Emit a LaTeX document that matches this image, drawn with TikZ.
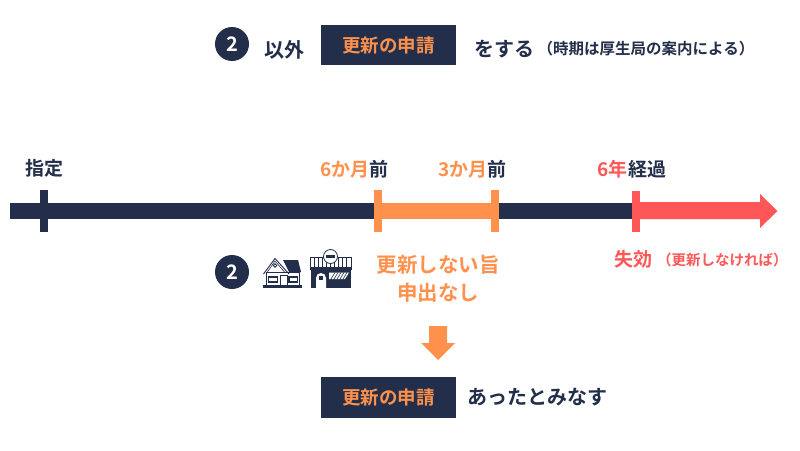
\documentclass[tikz,border=0pt]{standalone}
\usepackage{fontspec}
\setmainfont{Noto Sans CJK JP}[BoldFont={* Bold}]
\definecolor{navy}{HTML}{232F4A}
\definecolor{orng}{HTML}{FF914D}
\definecolor{redd}{HTML}{FF5757}
\tikzset{
 lab/.style={inner sep=0pt,font=\fontsize{#1}{#1}\selectfont\bfseries,text=navy},
 lab/.default=20,
 olab/.style={lab=#1,text=orng},
 rlab/.style={lab=#1,text=redd},
 numc/.style={circle,fill=navy,minimum size=34pt,inner sep=0pt,text=white,font=\fontsize{20}{20}\selectfont\bfseries},
 box/.style={fill=navy,minimum width=135pt,minimum height=40.5pt,inner sep=0pt,text=orng,font=\fontsize{18.5}{18.5}\selectfont\bfseries},
}
\begin{document}
\begin{tikzpicture}[x=1pt,y=-1pt]
\useasboundingbox (0,0) rectangle (800,450);
\fill[white] (0,0) rectangle (800,450);
% top row
\node[numc] (n1) at (232,44) {2};
\node[lab=20] (t1) at (284,50) {以外};
\node[box] (b1) at (388.5,45) {更新の申請};
\node[lab=20] (t2) at (504,49) {をする};
\node[lab=15.5] (t3) at (646,49) {（時期は厚生局の案内による）};
% timeline
\fill[navy] (10,203) rectangle (375,219);
\fill[navy] (498,203) rectangle (633,219);
\fill[navy] (40,190) rectangle (48,232);
\fill[orng] (374,190) rectangle (382,232);
\fill[orng] (491,190) rectangle (499,232);
\fill[orng] (382,203) rectangle (491,219);
\fill[redd] (632,190.5) rectangle (640,232);
\fill[redd] (640,202) -- (760,202) -- (760,194) -- (777.5,211) -- (760,228) -- (760,219) -- (640,219) -- cycle;
% labels
\node[lab=19] (l0) at (44,168.5) {指定};
\node[anchor=east,olab=19] (l1a) at (369.5,169.5) {6か月};
\node[anchor=west,lab=19] (l1b) at (369.5,169.5) {前};
\node[anchor=east,olab=19] (l2a) at (487.5,169.5) {3か月};
\node[anchor=west,lab=19] (l2b) at (487.5,169.5) {前};
\node[anchor=east,rlab=19] (l3a) at (628,169.5) {6年};
\node[anchor=west,lab=19] (l3b) at (628,169.5) {経過};
\node[olab=20.5] (o1) at (438,265) {更新しない旨};
\node[olab=20.5] (o2) at (438,293) {申出なし};
\node[anchor=west,rlab=19] (r1) at (614,259.5) {失効};
\node[anchor=west,rlab=14.5] (r2) at (657,260) {（更新しなければ）};
% second row
\node[numc] (n2) at (232,272) {2};
% house
\begin{scope}
\fill[navy] (263,285) rectangle (302,288);
\fill[navy] (283,260) -- (298,260) -- (301,272) -- (289,272) -- cycle;
\fill[white] (266,272) rectangle (299,285);
\draw[navy,line width=.7pt] (266,272) rectangle (299,285);
\draw[navy,line width=.9pt,line join=miter] (263.5,274) -- (275,258.5) -- (289,274);
\draw[navy,line width=.6pt] (267,272.5) -- (275,261) -- (285,272.5);
\fill[navy] (267.5,276) rectangle (278,282.5);
\fill[white] (269,277.5) rectangle (276.5,280.5);
\fill[navy] (288,276) rectangle (298,282.5);
\fill[white] (289.5,277.5) rectangle (296.5,280.5);
\draw[navy,line width=.7pt] (280,275) rectangle (287,285);
\draw[navy,line width=.8pt] (275,265.5) circle (1.7pt);
\end{scope}
% shop
\begin{scope}
\draw[navy,line width=.7pt] (310,257) rectangle (351,267);
\foreach \x in {314,318,322,326,330,334,338,342,346}
  \draw[navy,line width=.6pt] (\x,257) -- (\x,267);
\fill[navy] (310,267) rectangle (352,270);
\fill[navy] (311,270) rectangle (351,288);
\fill[white] (316,288) -- (316,278) arc (180:360:5pt and -5pt) -- (326,288) -- cycle;
\fill[navy] (319,276) rectangle (323,280);
\fill[white] (329,272.5) -- (349,272.5) -- (345,279) -- (329,279) -- cycle;
\foreach \x in {331,334,337,340,343}
  \draw[navy,line width=.6pt] (\x,279) -- (\x+4,272.5);
\fill[white] (312,268) rectangle (312,268);
\filldraw[fill=white,draw=navy,line width=.8pt] (330.5,256.5) circle (7pt);
\fill[navy] (325.5,255) rectangle (335,258);
\end{scope}
% down arrow
\fill[orng] (429,326) -- (447,326) -- (447,343) -- (455,343) -- (438,360) -- (421,343) -- (429,343) -- cycle;
% bottom
\node[box] (b2) at (388.5,397.5) {更新の申請};
\node[anchor=west,lab=20] (t4) at (467,397) {あったとみなす};
\end{tikzpicture}
\end{document}
